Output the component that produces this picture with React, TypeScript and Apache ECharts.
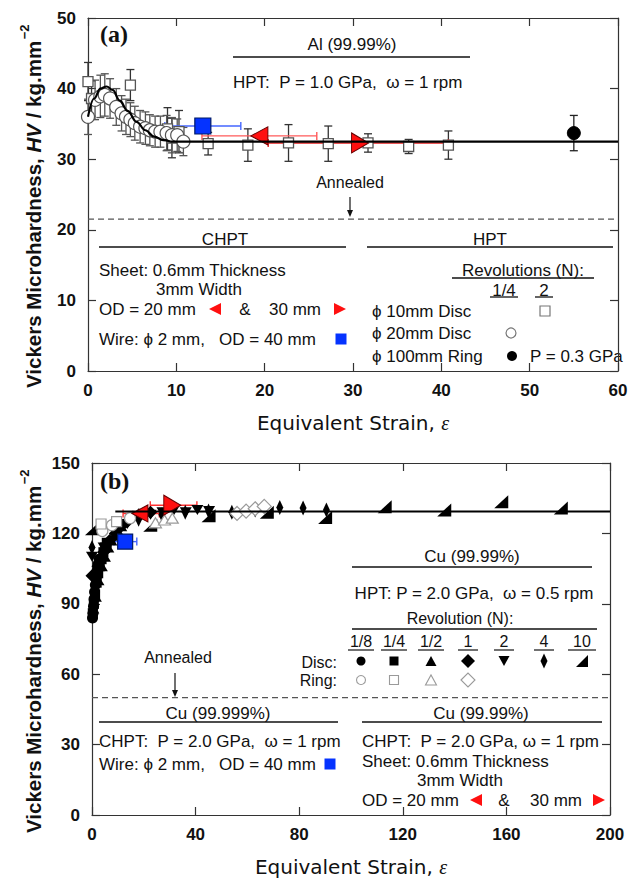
import React, { useEffect, useRef } from "react";
import * as echarts from "echarts";

const FONT = "'Liberation Sans', Arial, Helvetica, sans-serif";
const TFONT = "'DejaVu Sans', 'Liberation Sans', sans-serif";
const SERIF = "'Liberation Serif', 'Times New Roman', serif";

// ---------------- Panel (a): Al (99.99%) ----------------
const aXTicks = [0, 10, 20, 30, 40, 50, 60];
const aYTicks = [0, 10, 20, 30, 40, 50];

// HPT phi 10 mm disc, N = 2 (open squares)
const aSqX = [0, 0.4, 4.8, 9.0, 9.5, 10.3, 13.6, 18.1, 22.7, 27.2, 31.7, 36.3, 40.8];
const aSqY = [41.0, 38.6, 40.5, 34.3, 33.0, 33.9, 32.2, 32.0, 32.3, 32.2, 32.3, 31.8, 32.0];
const aSqErr = [2.7, 2.5, 2.2, 3.0, 2.8, 3.0, 1.6, 2.3, 2.6, 2.5, 1.3, 1.0, 2.0];

// HPT phi 20 mm disc, N = 1/4 (open circles)
const aCiX = [0, 0.8, 1.4, 1.9, 2.5, 3.2, 3.8, 4.3, 4.8, 5.3, 5.9, 6.5, 7.0, 7.6, 8.2, 8.9, 9.5, 10.1, 10.8];
const aCiY = [36.0, 38.4, 38.9, 39.1, 38.6, 37.4, 36.5, 36.0, 35.6, 35.1, 34.6, 34.4, 34.1, 33.9, 33.9, 33.7, 33.4, 33.4, 32.5];
const aCiErr = [2.5, 2.8, 3.0, 3.0, 2.8, 2.6, 2.5, 2.5, 2.4, 2.4, 2.3, 2.3, 2.2, 2.2, 2.2, 2.5, 2.5, 2.3, 2.0];

// HPT phi 100 mm ring, P = 0.3 GPa
const aRingX = [55.0];
const aRingY = [33.7];
const aRingErr = [2.5];

// CHPT wire OD 40 mm (blue), sheet OD 20 mm (left tri), OD 30 mm (right tri)
const aWire = { x: [13.0], y: [34.7], lo: [8.7], hi: [17.3] };
const aOD20 = { x: [19.4], y: [33.3], lo: [12.9], hi: [25.9] };
const aOD30 = { x: [30.8], y: [32.3], lo: [20.4], hi: [40.8] };

// fitted curve then steady-state level
const aFitX = [0, 0.7, 1.4, 2.1, 2.8, 3.6, 4.5, 5.5, 6.5, 7.5, 8.5, 9.3];
const aFitY = [36.0, 38.6, 40.0, 40.3, 39.8, 38.3, 36.8, 35.3, 34.1, 33.2, 32.7, 32.5];
const aSteady = 32.5;
const aAnnealed = 21.5;

// ---------------- Panel (b): Cu ----------------
const bXTicks = [0, 40, 80, 120, 160, 200];
const bYTicks = [0, 30, 60, 90, 120, 150];

// Disc (filled black)
const bN18X = [0.2, 0.4, 0.6, 0.8, 1.0, 1.3, 1.6, 2.0, 2.4, 2.8];
const bN18Y = [84, 86, 89, 92, 95, 98, 101, 104, 107, 109];
const bN14X = [0.3, 0.7, 1.2, 1.8, 2.4, 3.0, 3.7, 4.4, 5.1, 5.7];
const bN14Y = [86, 90, 94, 99, 103, 106, 109, 112, 114, 116];
const bN12X = [0.5, 1.5, 2.5, 3.8, 5.0, 6.3, 7.5, 8.8, 10.0, 11.3];
const bN12Y = [88, 93, 100, 106, 110, 114, 117, 119, 121, 123];
const bN1X = [0, 2.3, 4.5, 6.8, 9.0, 11.3, 13.6, 15.8, 18.1, 20.4, 22.6];
const bN1Y = [102, 106, 112, 117, 120, 123, 125, 127, 128, 128.5, 129];
const bN2X = [0, 4.5, 9.0, 13.6, 18.1, 22.6, 27.2, 31.7, 36.2, 40.7, 45.2];
const bN2Y = [110, 114, 120, 124, 126, 128, 129, 130, 129, 130, 129.5];
const bN4X = [0, 9, 18, 27, 36, 45, 54, 63, 72.5, 81.5, 90.5];
const bN4Y = [114, 121, 126, 128, 129, 129.5, 129, 130, 131, 130.8, 130];
const bN10X = [0, 22.5, 45, 67.5, 90, 113, 136, 158, 181];
const bN10Y = [122, 123.5, 127.5, 129, 126.8, 131.4, 130, 133.5, 130.8];

// Ring (open grey)
const bR18X = [4.0, 7.7, 14.7];
const bR18Y = [121, 123.5, 126.5];
const bR14X = [3.5, 9.5];
const bR14Y = [124, 125];
const bR12X = [24.5, 28, 31];
const bR12Y = [124.5, 125.7, 126.5];
const bR1X = [56, 59.5, 63, 66.5];
const bR1Y = [128.5, 129.5, 130.5, 131.5];

// CHPT
const bWire = { x: [12.8], y: [116.5], lo: [8.5], hi: [17.3] };
const bOD20 = { x: [18.5], y: [128.5], lo: [12.0], hi: [26.0] };
const bOD30 = { x: [31.0], y: [132.0], lo: [22.5], hi: [40.5] };

const bSteadyFrom = 9;
const bSteady = 129.3;
const bAnnealed = 50;

// ---------------- helpers ----------------
const RED = "#ff1010";
const BLUE = "#0533ff";
const GREY = "#9a9a9a";
const TRI_RT = "path://M10 0L10 10L0 10Z";

function pts(xs: number[], ys: number[]) {
  return xs.map((x, i) => [x, ys[i]]);
}

function vErr(xs: number[], ys: number[], es: number[], color: string, gi: number) {
  return {
    type: "custom",
    xAxisIndex: gi * 2,
    yAxisIndex: gi * 2,
    silent: true,
    data: xs.map((x, i) => [x, ys[i], es[i]]),
    encode: { x: 0, y: 1 },
    renderItem: (_p: any, api: any) => {
      const x = api.value(0), y = api.value(1), e = api.value(2);
      const a = api.coord([x, y + e]);
      const b = api.coord([x, y - e]);
      const st = { stroke: color, lineWidth: 1.3 };
      return {
        type: "group",
        children: [
          { type: "line", shape: { x1: a[0], y1: a[1], x2: b[0], y2: b[1] }, style: st },
          { type: "line", shape: { x1: a[0] - 4, y1: a[1], x2: a[0] + 4, y2: a[1] }, style: st },
          { type: "line", shape: { x1: b[0] - 4, y1: b[1], x2: b[0] + 4, y2: b[1] }, style: st },
        ],
      };
    },
  };
}

function hErr(d: { x: number[]; y: number[]; lo: number[]; hi: number[] }, color: string, gi: number) {
  return {
    type: "custom",
    xAxisIndex: gi * 2,
    yAxisIndex: gi * 2,
    silent: true,
    data: d.x.map((x, i) => [x, d.y[i], d.lo[i], d.hi[i]]),
    encode: { x: 0, y: 1 },
    renderItem: (_p: any, api: any) => {
      const y = api.value(1);
      const a = api.coord([api.value(2), y]);
      const b = api.coord([api.value(3), y]);
      const st = { stroke: color, lineWidth: 1.4 };
      return {
        type: "group",
        children: [
          { type: "line", shape: { x1: a[0], y1: a[1], x2: b[0], y2: b[1] }, style: st },
          { type: "line", shape: { x1: a[0], y1: a[1] - 4, x2: a[0], y2: a[1] + 4 }, style: st },
          { type: "line", shape: { x1: b[0], y1: b[1] - 4, x2: b[0], y2: b[1] + 4 }, style: st },
        ],
      };
    },
  };
}

function scat(data: number[][], gi: number, symbol: string, size: any, color: string, border: string, bw = 1, rotate = 0) {
  return {
    type: "scatter",
    xAxisIndex: gi * 2,
    yAxisIndex: gi * 2,
    silent: true,
    symbol,
    symbolSize: size,
    symbolRotate: rotate,
    itemStyle: { color, borderColor: border, borderWidth: bw, opacity: 1 },
    data,
  };
}

function lineS(data: number[][], gi: number, opts: any = {}) {
  return {
    type: "line",
    xAxisIndex: gi * 2,
    yAxisIndex: gi * 2,
    silent: true,
    symbol: "none",
    smooth: opts.smooth || false,
    smoothMonotone: opts.smooth ? "x" : undefined,
    lineStyle: { color: opts.color || "#000", width: opts.width || 2, type: opts.type || "solid" },
    data,
  };
}

// graphic helpers
function txt(text: string, x: number, y: number, o: any = {}) {
  return {
    type: "text",
    x,
    y,
    silent: true,
    rotation: o.rotation || 0,
    style: {
      text,
      fill: o.color || "#111",
      fontSize: o.size || 17,
      fontWeight: o.weight || "normal",
      fontStyle: o.style || "normal",
      fontFamily: o.family || FONT,
      align: o.align || "left",
      verticalAlign: "middle",
      textAlign: o.align || "left",
      textVerticalAlign: "middle",
      rich: o.rich,
    },
  };
}
function ln(x1: number, y1: number, x2: number, y2: number, color = "#111", w = 1.3) {
  return { type: "line", silent: true, shape: { x1, y1, x2, y2 }, style: { stroke: color, lineWidth: w } };
}
function poly(points: number[][], fill: string, stroke = "none", w = 1) {
  return { type: "polygon", silent: true, shape: { points }, style: { fill, stroke, lineWidth: w } };
}
function triL(x: number, y: number, s = 6, fill = RED) {
  return poly([[x + s, y - s], [x + s, y + s], [x - s, y]], fill);
}
function triR(x: number, y: number, s = 6, fill = RED) {
  return poly([[x - s, y - s], [x - s, y + s], [x + s, y]], fill);
}
function sq(x: number, y: number, s: number, fill: string, stroke = "none", w = 1) {
  return { type: "rect", silent: true, shape: { x: x - s / 2, y: y - s / 2, width: s, height: s }, style: { fill, stroke, lineWidth: w } };
}
function circ(x: number, y: number, r: number, fill: string, stroke = "none", w = 1) {
  return { type: "circle", silent: true, shape: { cx: x, cy: y, r }, style: { fill, stroke, lineWidth: w } };
}
function arrow(x: number, y1: number, y2: number) {
  return [ln(x, y1, x, y2 - 4, "#111", 1.2), poly([[x - 3, y2 - 7], [x + 3, y2 - 7], [x, y2]], "#111")];
}

function measure(text: string, font: string) {
  const c = document.createElement("canvas").getContext("2d");
  if (!c) return text.length * 10;
  c.font = font;
  return c.measureText(text).width;
}

function yTitle(cx: number, bottomY: number) {
  const size = 20.5;
  const p1 = "Vickers Microhardness, ";
  const p2 = "HV";
  const p3 = " / kg.mm";
  const w =
    measure(p1, `bold ${size}px ${FONT}`) +
    measure(p2, `italic bold ${size}px ${FONT}`) +
    measure(p3, `bold ${size}px ${FONT}`);
  return [
    {
      type: "text",
      x: cx,
      y: bottomY,
      rotation: Math.PI / 2,
      silent: true,
      style: {
        text: `${p1}{i|${p2}}${p3}`,
        fill: "#111",
        fontSize: size,
        fontWeight: "bold",
        fontFamily: FONT,
        align: "left",
        verticalAlign: "middle",
        textAlign: "left",
        textVerticalAlign: "middle",
        rich: { i: { fontStyle: "italic", fontWeight: "bold", fontSize: size, fontFamily: FONT, fill: "#111" } },
      },
    },
    txt("−2", cx - 9, bottomY - w - 9, { size: 13, weight: "bold", align: "center", rotation: Math.PI / 2 }),
  ];
}

function xTitle(cx: number, y: number) {
  return {
    type: "text",
    x: cx,
    y,
    silent: true,
    style: {
      text: "Equivalent Strain, {i|ε}",
      fill: "#111",
      fontSize: 20,
      fontWeight: "normal",
      fontFamily: TFONT,
      align: "center",
      verticalAlign: "middle",
      textAlign: "center",
      textVerticalAlign: "middle",
      rich: { i: { fontStyle: "italic", fontSize: 20, fontFamily: SERIF, fill: "#111" } },
    },
  };
}

function axes(gi: number, ticks: number[], isX: boolean) {
  const min = ticks[0];
  const max = ticks[ticks.length - 1];
  const interval = ticks[1] - ticks[0];
  const base = {
    type: "value",
    gridIndex: gi,
    min,
    max,
    interval,
    splitLine: { show: false },
    axisLine: { show: true, onZero: false, lineStyle: { color: "#333", width: 1.2 } },
    axisTick: { show: true, inside: true, length: 8, lineStyle: { color: "#333", width: 1.2 } },
  };
  const lab = { color: "#111", fontSize: 17, fontWeight: "bold", fontFamily: FONT, margin: isX ? 11 : 12 };
  return [
    { ...base, position: isX ? "bottom" : "left", axisLabel: lab },
    { ...base, position: isX ? "top" : "right", axisLabel: { show: false } },
  ];
}

function buildOption() {
  const aGraphic: any[] = [
    txt("(a)", 100, 34, { size: 24, weight: "bold", family: SERIF }),
    txt("Al (99.99%)", 352, 44, { align: "center" }),
    ln(233, 57, 470, 57),
    txt("HPT:  P = 1.0 GPa,  ω = 1 rpm", 233, 82),
    txt("Annealed", 350, 182, { align: "center", size: 16 }),
    ...arrow(350, 197, 217),
    txt("CHPT", 225, 239, { align: "center" }),
    ln(99, 247, 346, 247),
    txt("HPT", 490, 239, { align: "center" }),
    ln(367, 247, 613, 247),
    txt("Sheet: 0.6mm Thickness", 99, 270),
    txt("3mm Width", 156, 289),
    txt("OD = 20 mm", 99, 309),
    triL(215, 309),
    txt("&", 245, 309, { align: "center" }),
    txt("30 mm", 269, 309),
    triR(340, 309),
    txt("Wire: ϕ 2 mm,   OD = 40 mm", 99, 339),
    sq(341, 339, 11, BLUE),
    txt("Revolutions (N):", 523, 270, { align: "center" }),
    ln(452, 278, 594, 278),
    txt("1/4", 504, 290, { align: "center" }),
    ln(490, 297, 518, 297),
    txt("2", 544, 290, { align: "center" }),
    ln(535, 297, 553, 297),
    txt("ϕ 10mm Disc", 372, 311),
    sq(545, 311, 10, "#fff", "#777", 1.2),
    txt("ϕ 20mm Disc", 372, 333),
    circ(511, 333, 5, "#fff", "#777", 1.2),
    txt("ϕ 100mm Ring", 372, 356),
    circ(512, 356, 5, "#000"),
    txt("P = 0.3 GPa", 530, 356),
    ...yTitle(33, 388),
    xTitle(353, 423),
  ];

  const cols = [361, 394, 431, 468, 504, 544, 582];
  const heads = ["1/8", "1/4", "1/2", "1", "2", "4", "10"];
  const ulw = [26, 26, 26, 20, 20, 20, 28];
  const dy = 661;
  const ry = 680;
  const bGraphic: any[] = [
    txt("(b)", 100, 481, { size: 24, weight: "bold", family: SERIF }),
    txt("Cu (99.99%)", 472, 556, { align: "center" }),
    ln(352, 567, 592, 567),
    txt("HPT: P = 2.0 GPa,  ω = 0.5 rpm", 474, 593, { align: "center" }),
    txt("Revolution (N):", 460, 618, { align: "center", size: 16 }),
    ln(352, 629, 597, 629),
    ...heads.map((h, i) => txt(h, cols[i], 641, { align: "center", size: 16 })),
    ...heads.map((_h, i) => ln(cols[i] - ulw[i] / 2, 650, cols[i] + ulw[i] / 2, 650, "#111", 1.2)),
    txt("Disc:", 337, 662, { align: "right", size: 16 }),
    txt("Ring:", 337, 680, { align: "right", size: 16 }),
    circ(cols[0], dy, 4.5, "#000"),
    sq(cols[1], dy, 9, "#000"),
    poly([[cols[2] - 5.5, dy + 5], [cols[2] + 5.5, dy + 5], [cols[2], dy - 5]], "#000"),
    poly([[cols[3] - 7, dy], [cols[3], dy - 7], [cols[3] + 7, dy], [cols[3], dy + 7]], "#000"),
    poly([[cols[4] - 5.5, dy - 5], [cols[4] + 5.5, dy - 5], [cols[4], dy + 5]], "#000"),
    poly([[cols[5] - 3.5, dy], [cols[5], dy - 7.5], [cols[5] + 3.5, dy], [cols[5], dy + 7.5]], "#000"),
    poly([[cols[6] + 6, dy - 6], [cols[6] + 6, dy + 6], [cols[6] - 6, dy + 6]], "#000"),
    circ(cols[0], ry, 4.5, "#fff", GREY, 1.1),
    sq(cols[1], ry, 9, "#fff", GREY, 1.1),
    poly([[cols[2] - 5.5, ry + 5], [cols[2] + 5.5, ry + 5], [cols[2], ry - 5]], "#fff", GREY, 1.1),
    poly([[cols[3] - 7, ry], [cols[3], ry - 7], [cols[3] + 7, ry], [cols[3], ry + 7]], "#fff", GREY, 1.1),
    txt("Annealed", 178, 657, { align: "center", size: 16 }),
    ...arrow(175, 673, 697),
    txt("Cu (99.999%)", 218, 713, { align: "center" }),
    ln(99, 722, 338, 722),
    txt("CHPT:  P = 2.0 GPa,  ω = 1 rpm", 99, 741),
    txt("Wire: ϕ 2 mm,   OD = 40 mm", 99, 764),
    sq(330, 764, 11, BLUE),
    txt("Cu (99.99%)", 481, 713, { align: "center" }),
    ln(362, 722, 602, 722),
    txt("CHPT:  P = 2.0 GPa, ω = 1 rpm", 362, 741),
    txt("Sheet: 0.6mm Thickness", 362, 761),
    txt("3mm Width", 417, 780),
    txt("OD = 20 mm", 362, 800),
    triL(476, 800),
    txt("&", 504, 800, { align: "center" }),
    txt("30 mm", 530, 800),
    triR(599, 800),
    ...yTitle(33, 833),
    xTitle(351, 867),
  ];

  const aX = axes(0, aXTicks, true);
  const aY = axes(0, aYTicks, false);
  const bX = axes(1, bXTicks, true);
  const bY = axes(1, bYTicks, false);

  const series: any[] = [
    // ---- panel (a)
    lineS([[aXTicks[0], aAnnealed], [aXTicks[aXTicks.length - 1], aAnnealed]], 0, { color: "#555", width: 1.2, type: [6, 4] }),
    vErr(aSqX, aSqY, aSqErr, "#333", 0),
    vErr(aCiX, aCiY, aCiErr, "#555", 0),
    scat(pts(aSqX, aSqY), 0, "rect", 10, "#fff", "#555", 1.3),
    scat(pts(aCiX, aCiY), 0, "circle", 13, "#fff", "#555", 1.2),
    lineS(pts(aFitX, aFitY), 0, { smooth: 0.4, width: 2.2 }),
    lineS([[aFitX[aFitX.length - 1], aSteady], [aXTicks[aXTicks.length - 1], aSteady]], 0, { width: 2.2 }),
    hErr(aWire, "#4466ff", 0),
    scat(pts(aWire.x, aWire.y), 0, "rect", 16, BLUE, "#001a66", 1.2),
    hErr(aOD20, "#ff5a5a", 0),
    hErr(aOD30, "#e62020", 0),
    scat(pts(aOD20.x, aOD20.y), 0, "triangle", [18, 17], RED, "#600", 1, 90),
    scat(pts(aOD30.x, aOD30.y), 0, "triangle", [20, 17], RED, "#600", 1, -90),
    vErr(aRingX, aRingY, aRingErr, "#222", 0),
    scat(pts(aRingX, aRingY), 0, "circle", 13, "#000", "#000", 1),
    // ---- panel (b)
    lineS([[bXTicks[0], bAnnealed], [bXTicks[bXTicks.length - 1], bAnnealed]], 1, { color: "#555", width: 1.2, type: [6, 4] }),
    lineS([[bSteadyFrom, bSteady], [bXTicks[bXTicks.length - 1], bSteady]], 1, { width: 2 }),
    scat(pts(bN18X, bN18Y), 1, "circle", 11, "#000", "#000", 0),
    scat(pts(bN14X, bN14Y), 1, "rect", 10, "#000", "#000", 0),
    scat(pts(bN12X, bN12Y), 1, "triangle", [12, 10], "#000", "#000", 0),
    scat(pts(bN1X, bN1Y), 1, "diamond", [13, 13], "#000", "#000", 0),
    scat(pts(bN2X, bN2Y), 1, "triangle", [12, 10], "#000", "#000", 0, 180),
    scat(pts(bN4X, bN4Y), 1, "diamond", [7, 15], "#000", "#000", 0),
    scat(pts(bN10X, bN10Y), 1, TRI_RT, [14, 13], "#000", "#000", 0),
    scat(pts(bR18X, bR18Y), 1, "circle", 11, "#fff", GREY, 1.2),
    scat(pts(bR14X, bR14Y), 1, "rect", 10, "#fff", GREY, 1.2),
    scat(pts(bR12X, bR12Y), 1, "triangle", [12, 10], "#fff", GREY, 1.2),
    scat(pts(bR1X, bR1Y), 1, "diamond", [14, 14], "#fff", GREY, 1.2),
    hErr(bWire, "#4466ff", 1),
    scat(pts(bWire.x, bWire.y), 1, "rect", 15, BLUE, "#001a66", 1.2),
    hErr(bOD20, "#ff3030", 1),
    hErr(bOD30, "#ff3030", 1),
    scat(pts(bOD20.x, bOD20.y), 1, "triangle", [17, 16], RED, "#600", 1, 90),
    scat(pts(bOD30.x, bOD30.y), 1, "triangle", [20, 17], RED, "#600", 1, -90),
  ];

  return {
    animation: false,
    backgroundColor: "#fff",
    grid: [
      { left: 88, top: 18, width: 530, height: 353 },
      { left: 92, top: 463, width: 518, height: 352 },
    ],
    xAxis: [...aX, ...bX],
    yAxis: [...aY, ...bY],
    series,
    graphic: { elements: [...aGraphic, ...bGraphic] },
  };
}

export default function App() {
  const ref = useRef<HTMLDivElement>(null);
  useEffect(() => {
    if (!ref.current) return;
    const chart = echarts.init(ref.current, null, { renderer: "svg" });
    chart.setOption(buildOption() as any);
    return () => chart.dispose();
  }, []);
  return (
    <div
      ref={ref}
      style={{ position: "absolute", left: 0, top: 0, width: 632, height: 882, background: "#fff" }}
    />
  );
}
